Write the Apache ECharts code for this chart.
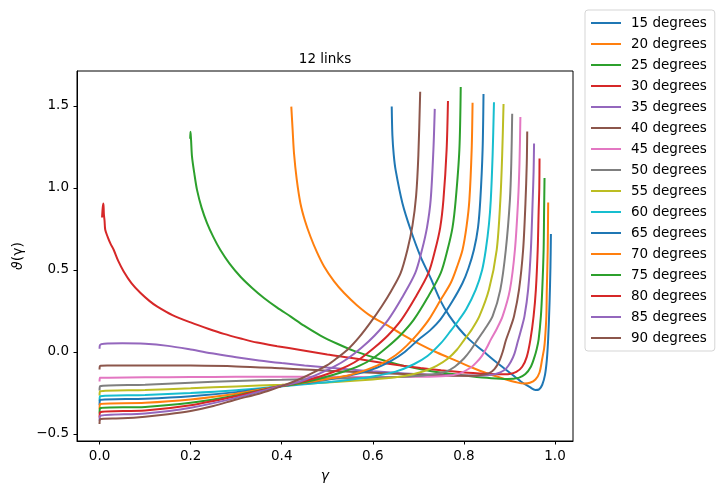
<!DOCTYPE html>
<html>
<head>
<meta charset="utf-8">
<script src="https://cdn.jsdelivr.net/npm/echarts@6/dist/echarts.min.js"></script>
<style>
  html, body { margin: 0; padding: 0; background: #fff; }
  #main { width: 723px; height: 495px; }
</style>
</head>
<body>
<div id="main"></div>
<script>
// gamma / theta pairs, one array per curve
var deg15 = [[0.6415,1.496],[0.643,1.32],[0.646,1.2],[0.65,1.11],[0.665,0.907],[0.683,0.745],[0.705,0.58],[0.727,0.45],[0.749,0.31],[0.768,0.22],[0.79,0.14],[0.812,0.075],[0.84,0.01],[0.87,-0.06],[0.9,-0.125],[0.925,-0.18],[0.945,-0.215],[0.957,-0.232],[0.965,-0.228],[0.972,-0.2],[0.978,-0.14],[0.982,-0.05],[0.985,0.08],[0.988,0.3],[0.99,0.52],[0.991,0.719]];
var deg20 = [[0.421,1.496],[0.424,1.35],[0.427,1.21],[0.433,1.05],[0.441,0.907],[0.451,0.8],[0.463,0.704],[0.477,0.61],[0.493,0.521],[0.515,0.43],[0.537,0.359],[0.565,0.285],[0.595,0.22],[0.63,0.165],[0.669,0.1],[0.705,0.045],[0.742,-0.005],[0.78,-0.05],[0.815,-0.092],[0.85,-0.13],[0.889,-0.165],[0.915,-0.185],[0.932,-0.193],[0.945,-0.188],[0.957,-0.168],[0.966,-0.125],[0.972,-0.04],[0.976,0.02],[0.978,0.075],[0.981,0.218],[0.982,0.38],[0.984,0.623],[0.985,0.911]];
var deg25 = [[0.199,1.3],[0.1995,1.343],[0.2,1.33],[0.201,1.29],[0.203,1.191],[0.208,1.09],[0.214,0.988],[0.224,0.88],[0.236,0.786],[0.25,0.7],[0.265,0.623],[0.285,0.54],[0.309,0.46],[0.335,0.39],[0.361,0.329],[0.39,0.27],[0.419,0.217],[0.449,0.16],[0.485,0.1],[0.522,0.05],[0.56,0.005],[0.595,-0.027],[0.632,-0.058],[0.669,-0.085],[0.72,-0.113],[0.77,-0.133],[0.815,-0.148],[0.86,-0.16],[0.895,-0.165],[0.92,-0.158],[0.935,-0.135],[0.947,-0.09],[0.955,-0.03],[0.96,0.02],[0.964,0.075],[0.969,0.218],[0.972,0.38],[0.975,0.623],[0.976,0.85],[0.977,1.06]];
var deg30 = [[0.0055,0.82],[0.007,0.88],[0.0085,0.905],[0.0095,0.84],[0.011,0.8],[0.0125,0.745],[0.018,0.7],[0.024,0.66],[0.031,0.623],[0.041,0.555],[0.053,0.491],[0.07,0.42],[0.09,0.359],[0.11,0.31],[0.126,0.278],[0.16,0.225],[0.2,0.18],[0.24,0.14],[0.273,0.11],[0.31,0.082],[0.346,0.057],[0.39,0.035],[0.441,0.012],[0.5,-0.015],[0.55,-0.035],[0.595,-0.055],[0.65,-0.078],[0.705,-0.098],[0.75,-0.112],[0.8,-0.125],[0.85,-0.133],[0.88,-0.136],[0.9,-0.134],[0.915,-0.122],[0.928,-0.09],[0.938,-0.03],[0.946,0.075],[0.953,0.218],[0.958,0.38],[0.962,0.623],[0.964,0.85],[0.9655,1.0],[0.966,1.179]];
var deg35 = [[0,0.02],[0.001,0.042],[0.01,0.05],[0.05,0.053],[0.1,0.05],[0.15,0.037],[0.2,0.015],[0.25,-0.01],[0.3,-0.033],[0.35,-0.052],[0.4,-0.068],[0.45,-0.082],[0.5,-0.095],[0.55,-0.107],[0.6,-0.118],[0.65,-0.127],[0.7,-0.135],[0.75,-0.14],[0.8,-0.143],[0.84,-0.143],[0.865,-0.137],[0.88,-0.125],[0.893,-0.1],[0.903,-0.06],[0.911,-0.01],[0.918,0.06],[0.926,0.14],[0.933,0.218],[0.941,0.38],[0.947,0.623],[0.951,0.927],[0.953,1.1],[0.954,1.271]];
var deg40 = [[0,-0.107],[0.001,-0.085],[0.02,-0.083],[0.1,-0.082],[0.2,-0.083],[0.3,-0.088],[0.4,-0.1],[0.45,-0.107],[0.5,-0.114],[0.6,-0.127],[0.7,-0.138],[0.76,-0.143],[0.8,-0.145],[0.83,-0.143],[0.855,-0.13],[0.867,-0.105],[0.877,-0.06],[0.885,0.0],[0.892,0.07],[0.901,0.14],[0.91,0.218],[0.921,0.38],[0.93,0.623],[0.935,0.9],[0.938,1.15],[0.939,1.344]];
var deg45 = [[0,-0.18],[0.001,-0.158],[0.02,-0.157],[0.1,-0.155],[0.2,-0.153],[0.3,-0.152],[0.4,-0.152],[0.5,-0.152],[0.6,-0.153],[0.7,-0.152],[0.76,-0.147],[0.79,-0.132],[0.815,-0.095],[0.828,-0.062],[0.84,-0.022],[0.85,0.025],[0.859,0.075],[0.872,0.14],[0.885,0.218],[0.901,0.38],[0.912,0.623],[0.919,0.927],[0.922,1.15],[0.924,1.433]];
var deg50 = [[0,-0.235],[0.001,-0.209],[0.1,-0.2],[0.2,-0.188],[0.3,-0.177],[0.4,-0.17],[0.5,-0.163],[0.6,-0.157],[0.68,-0.15],[0.73,-0.138],[0.76,-0.12],[0.78,-0.09],[0.8,-0.04],[0.815,0.012],[0.83,0.075],[0.846,0.14],[0.863,0.218],[0.88,0.38],[0.892,0.623],[0.901,0.927],[0.904,1.15],[0.906,1.453]];
var deg55 = [[0,-0.265],[0.001,-0.24],[0.1,-0.232],[0.2,-0.222],[0.3,-0.21],[0.4,-0.2],[0.5,-0.186],[0.6,-0.168],[0.65,-0.155],[0.69,-0.135],[0.715,-0.115],[0.74,-0.085],[0.765,-0.04],[0.785,0.015],[0.801,0.075],[0.818,0.14],[0.834,0.218],[0.855,0.38],[0.872,0.623],[0.88,0.927],[0.884,1.2],[0.887,1.512]];
var deg60 = [[0,-0.3],[0.001,-0.27],[0.1,-0.262],[0.2,-0.25],[0.3,-0.233],[0.39,-0.212],[0.45,-0.197],[0.5,-0.185],[0.55,-0.17],[0.6,-0.15],[0.65,-0.12],[0.69,-0.075],[0.72,-0.025],[0.75,0.055],[0.77,0.125],[0.789,0.195],[0.805,0.26],[0.826,0.38],[0.84,0.5],[0.848,0.623],[0.855,0.78],[0.859,0.927],[0.863,1.2],[0.866,1.522]];
var deg65 = [[0,-0.325],[0.001,-0.293],[0.1,-0.285],[0.2,-0.27],[0.3,-0.245],[0.39,-0.212],[0.45,-0.19],[0.5,-0.17],[0.57,-0.13],[0.61,-0.095],[0.64,-0.055],[0.67,0.0],[0.7,0.075],[0.725,0.13],[0.749,0.2],[0.775,0.31],[0.797,0.42],[0.81,0.51],[0.822,0.623],[0.831,0.76],[0.836,0.927],[0.841,1.232],[0.843,1.573]];
var deg70 = [[0,-0.35],[0.001,-0.317],[0.1,-0.31],[0.2,-0.29],[0.3,-0.255],[0.39,-0.212],[0.45,-0.188],[0.5,-0.165],[0.55,-0.14],[0.59,-0.105],[0.62,-0.07],[0.65,-0.02],[0.675,0.04],[0.7,0.115],[0.723,0.197],[0.749,0.318],[0.771,0.42],[0.785,0.52],[0.797,0.623],[0.806,0.77],[0.812,0.927],[0.817,1.232],[0.819,1.52]];
var deg75 = [[0,-0.375],[0.001,-0.343],[0.1,-0.335],[0.2,-0.31],[0.3,-0.265],[0.39,-0.213],[0.43,-0.195],[0.48,-0.165],[0.53,-0.125],[0.57,-0.085],[0.6,-0.04],[0.63,0.025],[0.66,0.1],[0.69,0.197],[0.72,0.33],[0.749,0.48],[0.764,0.623],[0.775,0.76],[0.782,0.927],[0.79,1.232],[0.793,1.616]];
var deg80 = [[0,-0.4],[0.001,-0.368],[0.1,-0.357],[0.2,-0.325],[0.3,-0.27],[0.39,-0.212],[0.42,-0.195],[0.46,-0.17],[0.51,-0.125],[0.545,-0.085],[0.573,-0.04],[0.603,0.025],[0.633,0.1],[0.663,0.197],[0.693,0.33],[0.722,0.48],[0.737,0.623],[0.748,0.76],[0.755,0.927],[0.762,1.232],[0.765,1.53]];
var deg85 = [[0,-0.42],[0.001,-0.39],[0.1,-0.375],[0.2,-0.34],[0.3,-0.28],[0.39,-0.213],[0.44,-0.18],[0.48,-0.135],[0.515,-0.09],[0.545,-0.04],[0.575,0.025],[0.604,0.1],[0.634,0.197],[0.664,0.33],[0.693,0.48],[0.708,0.623],[0.719,0.76],[0.727,0.927],[0.733,1.232],[0.736,1.482]];
var deg90 = [[0,-0.44],[0.001,-0.41],[0.05,-0.405],[0.1,-0.395],[0.15,-0.38],[0.2,-0.36],[0.25,-0.33],[0.3,-0.29],[0.35,-0.255],[0.38,-0.228],[0.41,-0.198],[0.44,-0.165],[0.47,-0.125],[0.5,-0.08],[0.52,-0.04],[0.545,0.015],[0.57,0.09],[0.595,0.18],[0.62,0.28],[0.64,0.37],[0.661,0.48],[0.676,0.623],[0.687,0.77],[0.695,0.95],[0.7,1.2],[0.704,1.587]];

var curves = [deg15, deg20, deg25, deg30, deg35, deg40, deg45, deg50,
              deg55, deg60, deg65, deg70, deg75, deg80, deg85, deg90];
var names = ['15 degrees', '20 degrees', '25 degrees', '30 degrees', '35 degrees', '40 degrees',
             '45 degrees', '50 degrees', '55 degrees', '60 degrees', '65 degrees', '70 degrees',
             '75 degrees', '80 degrees', '85 degrees', '90 degrees'];
var xTicks = [0, 0.2, 0.4, 0.6, 0.8, 1.0];
var yTicks = [-0.5, 0, 0.5, 1.0, 1.5];

var colors = ['#1f77b4', '#ff7f0e', '#2ca02c', '#d62728', '#9467bd', '#8c564b',
              '#e377c2', '#7f7f7f', '#bcbd22', '#17becf'];
var font = 'DejaVu Sans';

function tickText(v) {
  return v.toFixed(1).replace('-', '\u2212');
}

var chart = echarts.init(document.getElementById('main'), null, {renderer: 'canvas'});

var series = [];
for (var i = 0; i < curves.length; i++) {
  series.push({
    name: names[i],
    type: 'line',
    data: curves[i],
    showSymbol: false,
    symbol: 'none',
    smooth: 0.3,
    lineStyle: {width: 2, color: colors[i % colors.length]},
    itemStyle: {color: colors[i % colors.length]},
    emphasis: {disabled: true}
  });
}

var option = {
  animation: false,
  backgroundColor: '#fff',
  textStyle: {fontFamily: font},
  grid: {
    left: 77, right: 150, top: 71, bottom: 54,
    show: true, borderColor: '#000', borderWidth: 1, backgroundColor: 'transparent'
  },
  graphic: [{
    type: 'text', x: 325, y: 59,
    style: {text: '12 links', fontFamily: font, fontSize: 13.5, fill: '#000',
            textAlign: 'center', textVerticalAlign: 'middle'}
  }],
  legend: {
    orient: 'vertical', left: 585, top: 10,
    padding: [6, 8, 6, 6],
    backgroundColor: '#fff', borderColor: '#d5d5d5', borderWidth: 1, borderRadius: 3,
    itemWidth: 30, itemHeight: 2, itemGap: 7, icon: 'rect',
    textStyle: {fontFamily: font, fontSize: 13.5, color: '#000', lineHeight: 14, padding: [0, 0, 0, 5]},
    data: names
  },
  xAxis: {
    type: 'value', min: -0.0495, max: 1.0395,
    name: 'γ', nameLocation: 'middle', nameGap: 28,
    nameTextStyle: {fontFamily: font, fontSize: 14, fontStyle: 'italic', color: '#000'},
    axisLine: {show: true, onZero: false, lineStyle: {color: '#000', width: 1}},
    axisTick: {show: true, length: 3.5, lineStyle: {color: '#000'}, customValues: xTicks},
    axisLabel: {color: '#000', fontSize: 13.5, fontFamily: font, margin: 8,
                customValues: xTicks, formatter: tickText},
    splitLine: {show: false}
  },
  yAxis: {
    type: 'value', min: -0.543, max: 1.713,
    name: '{i|ϑ}(γ)', nameLocation: 'middle', nameGap: 52, nameRotate: 90,
    nameTextStyle: {fontFamily: font, fontSize: 14, color: '#000',
                    rich: {i: {fontFamily: font, fontSize: 14, fontStyle: 'italic', color: '#000'}}},
    axisLine: {show: true, onZero: false, lineStyle: {color: '#000', width: 1}},
    axisTick: {show: true, length: 3.5, lineStyle: {color: '#000'}, customValues: yTicks},
    axisLabel: {color: '#000', fontSize: 13.5, fontFamily: font, margin: 8,
                customValues: yTicks, formatter: tickText},
    splitLine: {show: false}
  },
  series: series
};

chart.setOption(option);
</script>
</body>
</html>
